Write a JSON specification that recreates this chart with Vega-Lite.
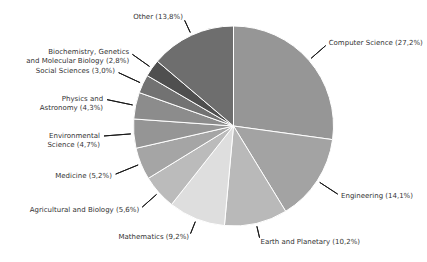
{
  "$schema": "https://vega.github.io/schema/vega-lite/v6.json",
  "width": 387,
  "height": 252,
  "autosize": "none",
  "padding": {"left": 40, "top": 0, "right": 0, "bottom": 10},
  "background": "white",
  "view": {"stroke": null},
  "config": {"text": {"font": "DejaVu Sans", "fontSize": 7, "color": "#333333"}},
  "data": {
    "values": [
      {"rank": 1, "category": "Computer Science", "value": 27.2, "label": "Computer Science (27,2%)"},
      {"rank": 2, "category": "Engineering", "value": 14.1, "label": "Engineering (14,1%)"},
      {"rank": 3, "category": "Earth and Planetary", "value": 10.2, "label": "Earth and Planetary (10,2%)"},
      {"rank": 4, "category": "Mathematics", "value": 9.2, "label": "Mathematics (9,2%)"},
      {"rank": 5, "category": "Agricultural and Biology", "value": 5.6, "label": "Agricultural and Biology (5,6%)"},
      {"rank": 6, "category": "Medicine", "value": 5.2, "label": "Medicine (5,2%)"},
      {"rank": 7, "category": "Environmental Science", "value": 4.7, "label": "Environmental\nScience (4,7%)"},
      {"rank": 8, "category": "Physics and Astronomy", "value": 4.3, "label": "Physics and\nAstronomy (4,3%)"},
      {"rank": 9, "category": "Social Sciences", "value": 3.0, "label": "Social Sciences (3,0%)"},
      {"rank": 10, "category": "Biochemistry, Genetics and Molecular Biology", "value": 2.8, "label": "Biochemistry, Genetics\nand Molecular Biology (2,8%)"},
      {"rank": 11, "category": "Other", "value": 13.8, "label": "Other (13,8%)"}
    ]
  },
  "transform": [
    {"window": [{"op": "sum", "field": "value", "as": "cum"}], "sort": [{"field": "rank"}], "frame": [null, 0]},
    {"joinaggregate": [{"op": "sum", "field": "value", "as": "total"}]},
    {"calculate": "datum.cum - datum.value / 2", "as": "mid"},
    {"calculate": "2 * PI * datum.mid / datum.total", "as": "ang"},
    {"calculate": "130 * 114 / sqrt(pow(114 * sin(datum.ang), 2) + pow(130 * cos(datum.ang), 2))", "as": "rl"},
    {"calculate": "datum.rl + 4", "as": "rt"}
  ],
  "layer": [
    {
      "mark": {"type": "arc", "outerRadius": 100, "stroke": "white", "strokeWidth": 1},
      "encoding": {
        "theta": {"field": "value", "type": "quantitative", "stack": true},
        "order": {"field": "rank", "type": "quantitative"},
        "color": {
          "field": "category",
          "type": "nominal",
          "legend": null,
          "scale": {
            "domain": ["Computer Science", "Engineering", "Earth and Planetary", "Mathematics", "Agricultural and Biology", "Medicine", "Environmental Science", "Physics and Astronomy", "Social Sciences", "Biochemistry, Genetics and Molecular Biology", "Other"],
            "range": ["#969696", "#a3a3a3", "#b9b9b9", "#dedede", "#bbbbbb", "#a5a5a5", "#959595", "#8c8c8c", "#727272", "#4f4f4f", "#6e6e6e"]
          }
        }
      }
    },
    {
      "mark": {"type": "arc", "innerRadius": 103, "stroke": "#1a1a1a", "strokeWidth": 1, "fillOpacity": 0},
      "encoding": {
        "theta": {"field": "mid", "type": "quantitative", "stack": null},
        "theta2": {"field": "mid"},
        "radius": {"field": "rl", "type": "quantitative", "scale": null}
      }
    },
    {
      "transform": [{"filter": {"field": "category", "oneOf": ["Computer Science", "Engineering", "Earth and Planetary"]}}],
      "mark": {"type": "text", "align": "left", "baseline": "middle", "lineBreak": "\n"},
      "encoding": {
        "theta": {"field": "mid", "type": "quantitative", "stack": null},
        "radius": {"field": "rt", "type": "quantitative", "scale": null},
        "text": {"field": "label"}
      }
    },
    {
      "transform": [{"filter": {"not": {"field": "category", "oneOf": ["Computer Science", "Engineering", "Earth and Planetary"]}}}],
      "mark": {"type": "text", "align": "right", "baseline": "middle", "lineBreak": "\n"},
      "encoding": {
        "theta": {"field": "mid", "type": "quantitative", "stack": null},
        "radius": {"field": "rt", "type": "quantitative", "scale": null},
        "text": {"field": "label"}
      }
    }
  ]
}
